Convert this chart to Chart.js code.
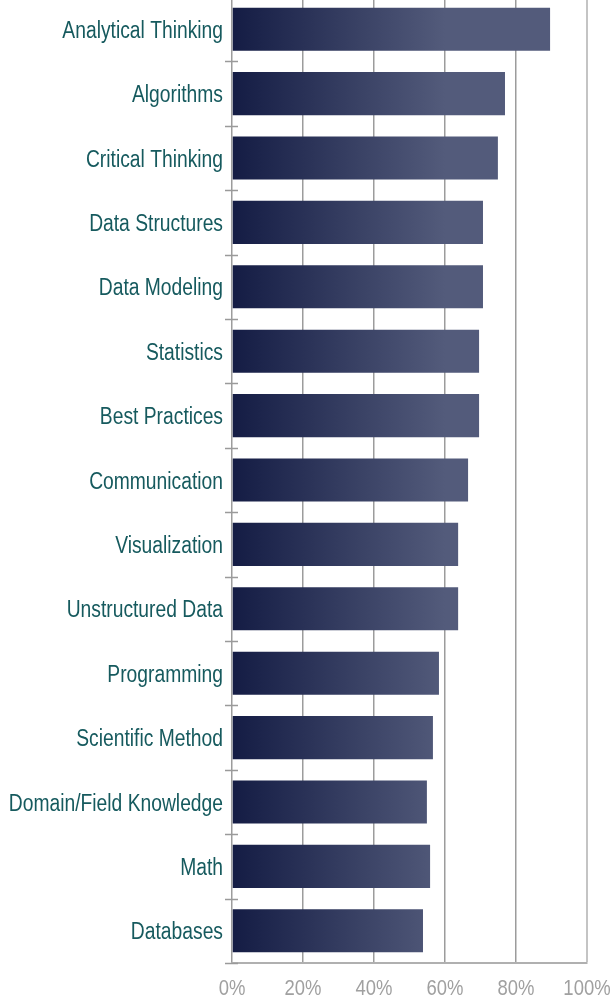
<!DOCTYPE html>
<html>
<head>
<meta charset="utf-8">
<script src="https://cdn.jsdelivr.net/npm/chart.js@4"></script>
<style>
  html, body { margin: 0; padding: 0; background: #fff; }
  .wrap { position: relative; width: 613px; height: 998px; overflow: hidden; }
  #skills_chart { position: absolute; left: 0; top: -3px; }
</style>
</head>
<body>
<div class="wrap">
  <canvas id="skills_chart" width="613" height="1001"></canvas>
</div>
<script>
// skills data
var skills = ["Analytical Thinking", "Algorithms", "Critical Thinking", "Data Structures",
    "Data Modeling", "Statistics", "Best Practices", "Communication", "Visualization",
    "Unstructured Data", "Programming", "Scientific Method", "Domain/Field Knowledge",
    "Math", "Databases"]
var shares = [89.6, 76.9, 74.9, 70.7, 70.7, 69.6, 69.6, 66.5, 63.7, 63.7, 58.3, 56.6, 54.9, 55.8, 53.8]
var pctTicks = [0, 20, 40, 60, 80, 100]

var labelFont = "'Liberation Sans', Arial, sans-serif"

function barGradient(context) {
    var area = context.chart.chartArea
    if (!area) return "#525a7a"
    var g = context.chart.ctx.createLinearGradient(area.left, 0, area.left + (area.right - area.left) * 0.6, 0)
    g.addColorStop(0, "#141c44")
    g.addColorStop(1, "#535b7b")
    return g
}

// narrow labels: no narrow face is installed, so squeeze the text like Arial Narrow
function narrowText(ctx, text, x, y, sx) {
    ctx.save()
    ctx.translate(x, y)
    ctx.scale(sx, 1)
    ctx.fillText(text, 0, 0)
    ctx.restore()
}

var narrowLabels = {
    id: "narrowLabels",
    afterDraw: function (chart) {
        var ctx = chart.ctx
        var xs = chart.scales.x
        var ys = chart.scales.y
        var area = chart.chartArea
        ctx.save()
        // category ticks crossing the axis
        ctx.strokeStyle = "#9a9a9a"
        ctx.lineWidth = 1.5
        for (var i = 0; i <= skills.length; i++) {
            var by = Math.round(ys.getPixelForValue(i - 0.5)) + 0.5
            ctx.beginPath()
            ctx.moveTo(area.left - 7, by)
            ctx.lineTo(area.left + 6, by)
            ctx.stroke()
        }
        // category labels
        ctx.fillStyle = "#165a5e"
        ctx.font = "23.5px " + labelFont
        ctx.textAlign = "right"
        ctx.textBaseline = "alphabetic"
        skills.forEach(function (s, i) {
            narrowText(ctx, s, area.left - 9, ys.getPixelForValue(i) + 8.5, 0.82)
        })
        // percent labels
        ctx.fillStyle = "#a0a0a0"
        ctx.font = "22px " + labelFont
        ctx.textAlign = "center"
        pctTicks.forEach(function (v) {
            narrowText(ctx, v + "%", xs.getPixelForValue(v), area.bottom + 32, 0.84)
        })
        ctx.restore()
    }
}

var skillsCanvas = document.getElementById("skills_chart")
var config = {
    type: "bar",
    data: {
        labels: skills,
        datasets: [{
            label: "Share",
            data: shares,
            backgroundColor: barGradient,
            borderWidth: 0,
            categoryPercentage: 0.67,
            barPercentage: 1
        }]
    },
    options: {
        indexAxis: "y",
        responsive: false,
        animation: false,
        layout: { padding: { left: 0, right: 26, top: 0, bottom: 0 } },
        plugins: { legend: { display: false }, tooltip: { enabled: false } },
        scales: {
            x: {
                min: 0,
                max: 100,
                afterBuildTicks: function (scale) {
                    scale.ticks = pctTicks.map(function (v) { return { value: v } })
                },
                afterFit: function (scale) {
                    scale.height = 35
                    scale.paddingLeft = 0
                    scale.paddingRight = 0
                },
                grid: {
                    drawTicks: false,
                    lineWidth: function (c) { return c.tick && c.tick.value === 100 ? 2 : 1.5 },
                    color: function (c) { return c.tick && c.tick.value === 100 ? "#c4c4c4" : "#9c9c9c" }
                },
                border: { display: true, color: "#b0b0b0", width: 2 },
                ticks: { display: false }
            },
            y: {
                afterFit: function (scale) {
                    scale.width = 232
                    scale.paddingTop = 0
                    scale.paddingBottom = 0
                },
                grid: { display: false },
                border: { display: false },
                ticks: { display: false }
            }
        }
    },
    plugins: [narrowLabels]
}

var skills_chart = new Chart(skillsCanvas, config)
</script>
</body>
</html>
